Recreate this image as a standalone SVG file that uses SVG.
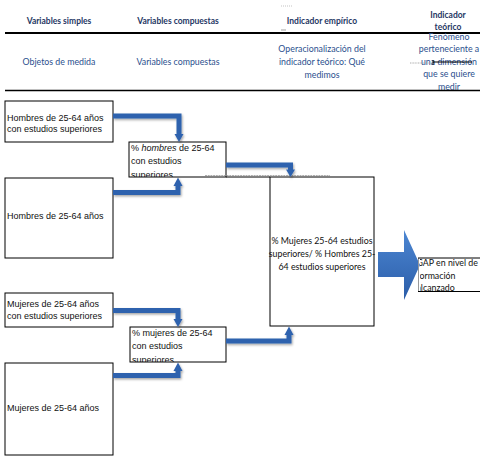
<svg xmlns="http://www.w3.org/2000/svg" width="480" height="456" viewBox="0 0 480 456">
<style>
.hd{font-family:Lato,"Liberation Sans",sans-serif;font-weight:bold;font-size:8.5px;fill:#1F3864;text-anchor:middle}
.rw{font-family:Lato,"Liberation Sans",sans-serif;font-size:8.8px;fill:#2B4F8E;text-anchor:middle}
.bx{fill:#fff;stroke:#000;stroke-width:1}
.t{font-family:"Liberation Sans",Arial,sans-serif;font-size:9px;fill:#111}
.c{font-family:Lato,"Liberation Sans",sans-serif;font-size:8.8px;fill:#111}
.conn{fill:none;stroke:#2E62AE;stroke-width:5;stroke-linejoin:miter}
.head{fill:#2E62AE}
</style>
<defs>
<filter id="sh" x="-20%" y="-20%" width="140%" height="140%">
<feDropShadow dx="1" dy="1.5" stdDeviation="0.8" flood-color="#000" flood-opacity="0.35"/>
</filter>
<linearGradient id="bg" x1="0" y1="0" x2="0" y2="1">
<stop offset="0" stop-color="#4C86D2"/>
<stop offset="1" stop-color="#2B5DA8"/>
</linearGradient>
<clipPath id="c2"><rect x="129" y="142" width="97" height="35"/></clipPath>
<clipPath id="c6"><rect x="130" y="327" width="96" height="35"/></clipPath>
<clipPath id="cg"><rect x="420" y="255" width="60" height="40"/></clipPath>
</defs>
<rect width="480" height="456" fill="#fff"/>

<g id="header">
<text class="hd" x="59" y="24">Variables simples</text>
<text class="hd" x="178" y="24">Variables compuestas</text>
<text class="hd" x="322" y="24">Indicador empírico</text>
<text class="hd" x="448" y="18">Indicador</text>
<text class="hd" x="448" y="30">teórico</text>
<line x1="5" y1="33" x2="480" y2="33" stroke="#000" stroke-width="2"/>
<text class="rw" x="59" y="65">Objetos de medida</text>
<text class="rw" x="178" y="65">Variables compuestas</text>
<text class="rw" x="322" y="52">Operacionalización del</text>
<text class="rw" x="322" y="65">indicador teórico: Qué</text>
<text class="rw" x="322" y="78">medimos</text>
<text class="rw" x="449" y="39.5">Fenómeno</text>
<text class="rw" x="449" y="52">perteneciente a</text>
<text class="rw" x="449" y="64.5">una dimensión</text>
<text class="rw" x="449" y="77">que se quiere</text>
<text class="rw" x="449" y="89.5">medir</text>
<line x1="5" y1="90.5" x2="480" y2="90.5" stroke="#000" stroke-width="1.3"/>
<line x1="433" y1="62" x2="472" y2="62" stroke="#000" stroke-width="1.2"/>
<line x1="433" y1="60" x2="433" y2="65" stroke="#000" stroke-width="1"/>
<line x1="410" y1="63" x2="432" y2="63" stroke="#999" stroke-width="0.8" stroke-dasharray="1,0.6"/>
<line x1="281" y1="6" x2="292" y2="6" stroke="#aaa" stroke-width="0.7" stroke-dasharray="1,1"/>
<line x1="281" y1="30" x2="286" y2="30" stroke="#888" stroke-width="0.8"/>
</g>

<g id="n1"><rect class="bx" x="5" y="101" width="108" height="41"/>
<text class="t" x="7" y="121">Hombres de 25-64 años</text>
<text class="t" x="7" y="132">con estudios superiores</text></g>

<g id="n3"><rect class="bx" x="5" y="178" width="108" height="80"/>
<text class="t" x="7" y="219">Hombres de 25-64 años</text></g>

<g id="n2"><rect class="bx" x="129" y="142" width="97" height="35"/>
<g clip-path="url(#c2)">
<text class="t" x="131" y="151">% <tspan font-style="italic">hombres</tspan> de 25-64</text>
<text class="t" x="131" y="164">con estudios</text>
<text class="t" x="131" y="177.5">superiores</text></g>
<line x1="226" y1="177" x2="270" y2="177" stroke="#000" stroke-width="1"/>
<line x1="205" y1="175.5" x2="330" y2="175.5" stroke="#999" stroke-width="0.8" stroke-dasharray="2,0.7"/></g>

<g id="n5"><rect class="bx" x="5" y="293" width="108" height="34"/>
<text class="t" x="7" y="307">Mujeres de 25-64 años</text>
<text class="t" x="7" y="319">con estudios superiores</text></g>

<g id="n7"><rect class="bx" x="5" y="363" width="108" height="92"/>
<text class="t" x="7" y="411">Mujeres de 25-64 años</text></g>

<g id="n6"><rect class="bx" x="130" y="327" width="96" height="35"/>
<g clip-path="url(#c6)">
<text class="t" x="132" y="336">% mujeres de 25-64</text>
<text class="t" x="132" y="349">con estudios</text>
<text class="t" x="132" y="362.5">superiores</text></g></g>

<g id="n4"><rect class="bx" x="270" y="177" width="104" height="149"/>
<text class="c" x="322" y="244" text-anchor="middle">% Mujeres 25-64 estudios</text>
<text class="c" x="322" y="257" text-anchor="middle">superiores/ % Hombres 25-</text>
<text class="c" x="322" y="270" text-anchor="middle">64 estudios superiores</text></g>

<g id="bigarrow">
<path d="M378,252 L404,252 L404,230 L420,265 L404,300 L404,277 L378,277 z" fill="url(#bg)"/>
</g>

<g id="n8">
<line x1="418.5" y1="258" x2="418.5" y2="292" stroke="#999" stroke-width="1"/>
<line x1="418" y1="258" x2="480" y2="258" stroke="#000" stroke-width="1"/>
<line x1="418" y1="291.5" x2="480" y2="291.5" stroke="#000" stroke-width="1"/>
<g clip-path="url(#cg)">
<text class="c" x="416.5" y="266">GAP en nivel de</text>
<text class="c" x="416.5" y="279">formación</text>
<text class="c" x="416.5" y="291">alcanzado</text></g></g>

<g id="connectors" filter="url(#sh)">
<path class="conn" d="M113,116 L179,116 L179,135"/>
<polygon class="head" points="174.5,134 183.5,134 179,142"/>
<path class="conn" d="M113,192.5 L178,192.5 L178,185"/>
<polygon class="head" points="173.5,186 182.5,186 178,177.5"/>
<path class="conn" d="M226,165 L290.5,165 L290.5,170"/>
<polygon class="head" points="286,169.5 295,169.5 290.5,177"/>
<path class="conn" d="M113,310.5 L178,310.5 L178,320"/>
<polygon class="head" points="173.5,319 182.5,319 178,327"/>
<path class="conn" d="M113,375.5 L178,375.5 L178,370"/>
<polygon class="head" points="173.5,371 182.5,371 178,362.5"/>
<path class="conn" d="M226,341 L289,341 L289,334"/>
<polygon class="head" points="284.5,335 293.5,335 289,326.5"/>
</g>
</svg>
